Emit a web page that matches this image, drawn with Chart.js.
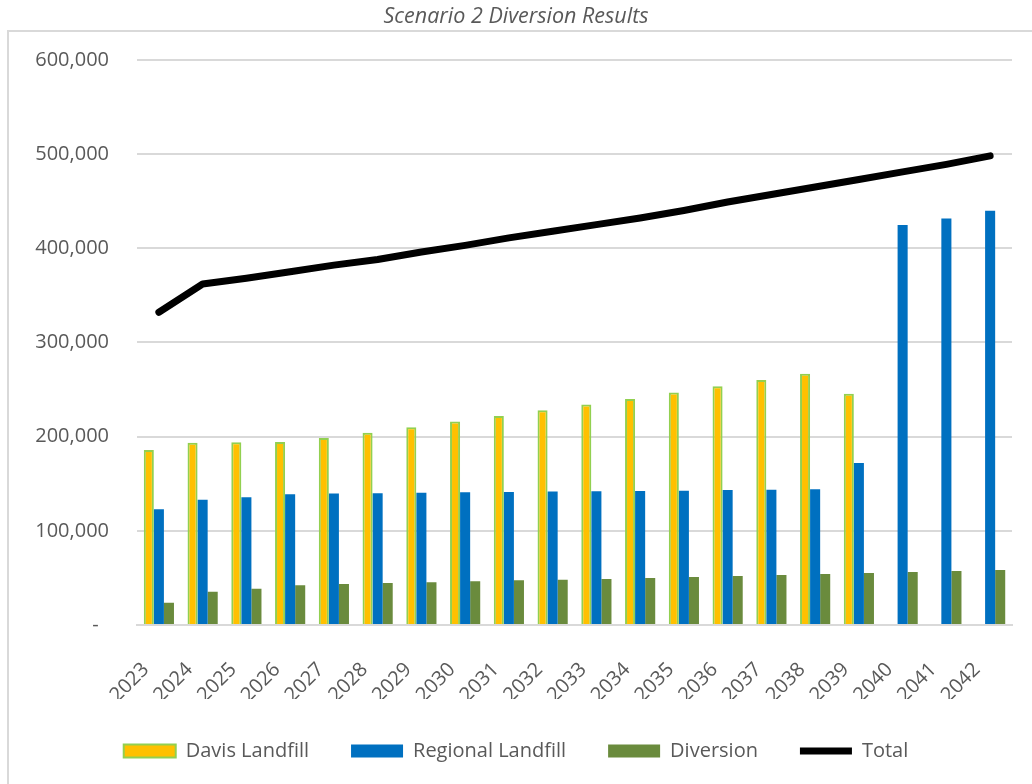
<!DOCTYPE html>
<html>
<head>
<meta charset="utf-8">
<script src="https://cdn.jsdelivr.net/npm/chart.js@4.4.0/dist/chart.umd.min.js"></script>
<style>
  html, body { margin: 0; padding: 0; background: #fff; }
  #wrap { width: 1032px; height: 784px; position: relative; }
</style>
</head>
<body>
<div id="wrap"><canvas id="scenarioChart"></canvas></div>
<script>
// data
const years = ['2023', '2024', '2025', '2026', '2027', '2028', '2029', '2030', '2031', '2032',
    '2033', '2034', '2035', '2036', '2037', '2038', '2039', '2040', '2041', '2042'];
const davisLandfill = [185800, 193600, 194000, 194400, 198600, 204000, 210000, 216000, 222000, 228000,
    234000, 240000, 246700, 253500, 260000, 266600, 245600, null, null, null];
const regionalLandfill = [122900, 133000, 135600, 138800, 139500, 139800, 140500, 141000, 141300, 141600,
    142000, 142300, 142600, 143400, 143700, 144000, 172000, 424500, 431600, 439800];
const diversion = [23700, 35400, 38600, 42100, 43500, 44600, 45300, 46400, 47400, 48100,
    48800, 49900, 51000, 52000, 53100, 54200, 55200, 56300, 57300, 58400];
const total = [332000, 362000, 368000, 375000, 382000, 388000, 396000, 403000, 411000, 418000,
    425000, 432000, 440000, 449000, 457000, 465000, 473000, 481000, 489000, 498000];

const gray = '#595959';
const gridGray = '#d9d9d9';

// outer frame under the title, like the Excel chart area
const framePlugin = {
    id: 'frame',
    beforeDraw(chart) {
        const c = chart.ctx;
        c.save();
        c.strokeStyle = gridGray;
        c.lineWidth = 2;
        c.strokeRect(8, 31, 1100, 800);
        c.restore();
    }
};

const ctx = document.getElementById('scenarioChart').getContext('2d');
new Chart(ctx, {
    data: {
        labels: years,
        datasets: [
            {
                type: 'bar',
                label: 'Davis Landfill',
                data: davisLandfill,
                backgroundColor: '#FFC000',
                borderColor: '#92D050',
                borderWidth: 2,
                pointStyle: 'rect',
                categoryPercentage: 0.69,
                barPercentage: 1.0
            },
            {
                type: 'bar',
                label: 'Regional Landfill',
                data: regionalLandfill,
                backgroundColor: '#0070C0',
                borderColor: '#0070C0',
                borderWidth: 0,
                pointStyle: 'rect',
                categoryPercentage: 0.69,
                barPercentage: 1.0
            },
            {
                type: 'bar',
                label: 'Diversion',
                data: diversion,
                backgroundColor: '#6A8B3D',
                borderColor: '#6A8B3D',
                borderWidth: 0,
                pointStyle: 'rect',
                categoryPercentage: 0.69,
                barPercentage: 1.0
            },
            {
                type: 'line',
                label: 'Total',
                data: total,
                borderColor: '#000000',
                backgroundColor: '#000000',
                borderWidth: 7,
                borderCapStyle: 'round',
                borderJoinStyle: 'round',
                pointRadius: 0,
                pointStyle: 'line',
                tension: 0
            }
        ]
    },
    options: {
        responsive: true,
        maintainAspectRatio: false,
        animation: false,
        layout: { padding: { left: 20, right: 20, top: 0, bottom: 13 } },
        plugins: {
            title: {
                display: true,
                text: 'Scenario 2 Diversion Results',
                color: gray,
                font: { family: 'Open Sans', size: 21.5, style: 'italic', weight: 'normal' },
                padding: { top: 4, bottom: 30 }
            },
            legend: {
                position: 'bottom',
                labels: {
                    usePointStyle: true,
                    pointStyleWidth: 52,
                    boxHeight: 13,
                    padding: 42,
                    color: gray,
                    font: { family: 'Open Sans', size: 20 }
                }
            },
            tooltip: { enabled: false }
        },
        scales: {
            x: {
                grid: { display: false, drawTicks: false },
                border: { display: true, color: gridGray, width: 2 },
                afterFit(scale) {
                    scale.height = 74;
                    scale.paddingLeft = 0;
                    scale.paddingRight = 0;
                },
                ticks: {
                    color: gray,
                    font: { family: 'Open Sans', size: 20 },
                    minRotation: 45,
                    maxRotation: 45,
                    padding: 33,
                    labelOffset: -13,
                    autoSkip: false
                }
            },
            y: {
                min: 0,
                max: 600000,
                grid: { color: gridGray, lineWidth: 2, drawTicks: false },
                border: { display: false },
                afterFit(scale) { scale.width = 117; },
                ticks: {
                    stepSize: 100000,
                    color: gray,
                    padding: 28,
                    font: { family: 'Open Sans', size: 20 },
                    callback: v => v === 0 ? '-  ' : v.toLocaleString('en-US')
                }
            }
        }
    },
    plugins: [framePlugin]
});
</script>
</body>
</html>
